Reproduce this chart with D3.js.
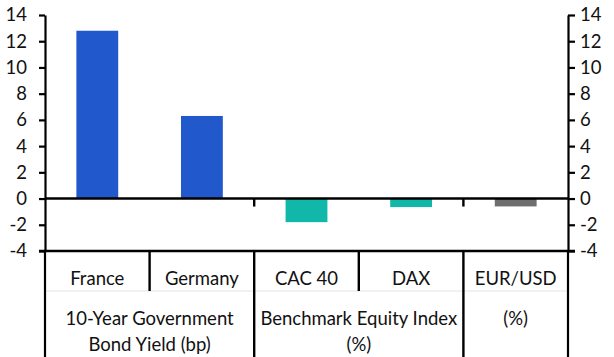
<!DOCTYPE html>
<html>
<head>
<meta charset="utf-8">
<script src="https://cdn.jsdelivr.net/npm/d3@7"></script>
<style>
  html, body { margin: 0; padding: 0; background: #fff; }
  svg { display: block; }
  text { font-family: Lato, "Open Sans", sans-serif; fill: #111; }
</style>
</head>
<body>
<svg id="chart" width="614" height="357"></svg>
<script>
// ---- data ----
const categories = ["France", "Germany", "CAC 40", "DAX", "EUR/USD"];
const values = [12.8, 6.3, -1.8, -0.65, -0.6];
const categoryGroup = [0, 0, 1, 1, 2];
const groupLabels = [
  ["10-Year Government", "Bond Yield (bp)"],
  ["Benchmark Equity Index", "(%)"],
  ["(%)"]
];
const yTicks = [-4, -2, 0, 2, 4, 6, 8, 10, 12, 14];

// ---- styles / layout ----
const groupColors = ["#2159CD", "#11B8A9", "#6E6E6E"];
const plotLeft = 45, plotRight = 568, plotTop = 15, axisBottom = 251;
const catRowBottom = 291, svgH = 357;
const fontSize = 18.5;

const svg = d3.select("#chart");
const x = d3.scaleBand().domain(categories).range([plotLeft, plotRight]).padding(0);
const y = d3.scaleLinear().domain([-4, 14]).range([axisBottom, plotTop]);
const barW = x.bandwidth() * 0.4;
const fmt = (d) => String(d);

// bars
svg.append("g").selectAll("rect")
  .data(categories)
  .join("rect")
  .attr("x", (d) => x(d) + (x.bandwidth() - barW) / 2)
  .attr("width", barW)
  .attr("y", (d, i) => y(Math.max(0, values[i])))
  .attr("height", (d, i) => Math.abs(y(values[i]) - y(0)))
  .attr("fill", (d, i) => groupColors[categoryGroup[i]]);

// y axes
const yl = svg.append("g").attr("transform", `translate(${plotLeft},0)`)
  .call(d3.axisLeft(y).tickValues(yTicks).tickFormat(fmt).tickSize(6).tickSizeOuter(0).tickPadding(12));
const yr = svg.append("g").attr("transform", `translate(${plotRight},0)`)
  .call(d3.axisRight(y).tickValues(yTicks).tickFormat(fmt).tickSize(7).tickSizeOuter(0).tickPadding(5));
[yl, yr].forEach(g => {
  g.selectAll("path.domain").attr("stroke", "#000").attr("stroke-width", 2.2);
  g.selectAll(".tick line").attr("stroke", "#000").attr("stroke-width", 2.2);
  g.selectAll(".tick text").attr("font-size", fontSize).attr("fill", "#111")
    .style("font-family", "Lato, 'Open Sans', sans-serif");
});

// zero line
svg.append("line")
  .attr("x1", plotLeft).attr("x2", plotRight)
  .attr("y1", y(0)).attr("y2", y(0))
  .attr("stroke", "#000").attr("stroke-width", 2.4);

// bottom category axis line
svg.append("line")
  .attr("x1", plotLeft - 6).attr("x2", plotRight + 7)
  .attr("y1", y(-4)).attr("y2", y(-4))
  .attr("stroke", "#000").attr("stroke-width", 2.4);

// faint row separator
svg.append("line")
  .attr("x1", plotLeft).attr("x2", plotRight)
  .attr("y1", catRowBottom).attr("y2", catRowBottom)
  .attr("stroke", "#e4e4e4").attr("stroke-width", 1);

// separators between categories
categories.forEach((c, i) => {
  if (i === 0) return;
  const isGroup = categoryGroup[i] !== categoryGroup[i - 1];
  svg.append("line")
    .attr("x1", x(c)).attr("x2", x(c))
    .attr("y1", axisBottom).attr("y2", isGroup ? svgH : catRowBottom)
    .attr("stroke", "#000").attr("stroke-width", 2.4);
  if (isGroup) {
    svg.append("line")
      .attr("x1", x(c)).attr("x2", x(c))
      .attr("y1", y(0)).attr("y2", y(0) + 8)
      .attr("stroke", "#000").attr("stroke-width", 2.4);
  }
});
// outer edges down to bottom
[plotLeft, plotRight].forEach(px => {
  svg.append("line")
    .attr("x1", px).attr("x2", px)
    .attr("y1", axisBottom).attr("y2", svgH)
    .attr("stroke", "#000").attr("stroke-width", 2.2);
});

// category labels
svg.append("g").selectAll("text")
  .data(categories)
  .join("text")
  .attr("x", (d) => x(d) + x.bandwidth() / 2)
  .attr("y", 279)
  .attr("dy", "0.35em")
  .attr("text-anchor", "middle")
  .attr("font-size", fontSize)
  .text((d) => d);

// group labels
groupLabels.forEach((lines, gi) => {
  const members = categories.filter((c, i) => categoryGroup[i] === gi);
  const gx0 = x(members[0]);
  const gx1 = x(members[members.length - 1]) + x.bandwidth();
  lines.forEach((t, li) => {
    svg.append("text")
      .attr("x", (gx0 + gx1) / 2)
      .attr("y", 319 + li * 26)
      .attr("dy", "0.35em")
      .attr("text-anchor", "middle")
      .attr("font-size", fontSize)
      .text(t);
  });
});
</script>
</body>
</html>
